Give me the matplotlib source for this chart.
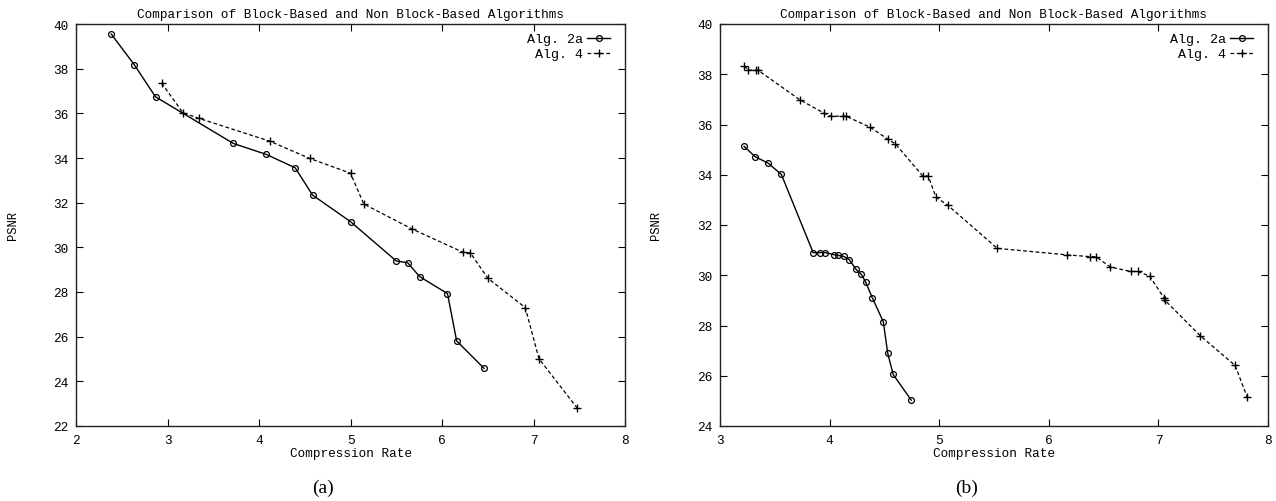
import matplotlib
matplotlib.use("Agg")
import matplotlib.pyplot as plt

# ---- data: panel (a) ----
a_alg2a_x = [2.385, 2.636, 2.869, 3.72, 4.08, 4.396, 4.585, 5.00, 5.50, 5.625, 5.755, 6.06, 6.16, 6.46]
a_alg2a_y = [39.55, 38.18, 36.74, 34.65, 34.16, 33.56, 32.34, 31.15, 29.39, 29.31, 28.69, 27.93, 25.81, 24.58]
a_alg4_x = [2.936, 3.17, 3.34, 4.12, 4.554, 5.00, 5.145, 5.674, 6.23, 6.31, 6.50, 6.91, 7.06, 7.48]
a_alg4_y = [37.35, 36.02, 35.78, 34.75, 33.98, 33.32, 31.94, 30.82, 29.78, 29.75, 28.62, 27.30, 25.01, 22.79]

# ---- data: panel (b) ----
b_alg2a_x = [3.22, 3.32, 3.44, 3.56, 3.85, 3.91, 3.96, 4.04, 4.08, 4.13, 4.18, 4.24, 4.29, 4.33,
             4.39, 4.49, 4.53, 4.58, 4.745]
b_alg2a_y = [35.13, 34.72, 34.46, 34.01, 30.90, 30.90, 30.90, 30.82, 30.79, 30.75, 30.62, 30.24,
             30.03, 29.72, 29.10, 28.15, 26.90, 26.05, 25.03]
b_alg4_x = [3.22, 3.26, 3.33, 3.35, 3.73, 3.95, 4.01, 4.12, 4.15, 4.37, 4.53, 4.60, 4.85, 4.90,
            4.97, 5.08, 5.53, 6.17, 6.38, 6.43, 6.56, 6.75, 6.81, 6.92, 7.05, 7.06, 7.38, 7.70, 7.81]
b_alg4_y = [38.33, 38.16, 38.16, 38.15, 36.98, 36.45, 36.33, 36.33, 36.33, 35.89, 35.42, 35.23,
            33.95, 33.95, 33.11, 32.78, 31.07, 30.81, 30.74, 30.74, 30.33, 30.15, 30.15, 29.97,
            29.10, 29.00, 27.60, 26.41, 25.15]

title = "Comparison of Block-Based and Non Block-Based Algorithms"
xlabel = "Compression Rate"
ylabel = "PSNR"
labels = ["Alg. 2a", "Alg. 4"]
panel_tags = ["(a)", "(b)"]
a_xlim, a_ylim = (2, 8), (22, 40)
b_xlim, b_ylim = (3, 8), (24, 40)

mono = ["Liberation Mono", "DejaVu Sans Mono"]
serif = ["Liberation Serif", "DejaVu Serif"]

W, H = 1276, 502
fig = plt.figure(figsize=(W / 100, H / 100), dpi=100)
top_px, bot_px = 25, 427
axA = fig.add_axes([76 / W, 1 - bot_px / H, (625 - 76) / W, (bot_px - top_px) / H])
axB = fig.add_axes([720 / W, 1 - bot_px / H, (1268 - 720) / W, (bot_px - top_px) / H])

FS = 9.2

def style(ax, xlim, ylim, xa, ya, xb, yb, tag, tag_x, ylab_x):
    ax.plot(xa, ya, color="black", lw=1.0, ls="-", marker="o", ms=4.2,
            mfc="none", mec="black", mew=0.9, label=labels[0])
    ax.plot(xb, yb, color="black", lw=0.9, ls=(0, (3, 2)), marker="+", ms=5.5,
            mew=1.0, label=labels[1])
    ax.set_xlim(*xlim)
    ax.set_ylim(*ylim)
    ax.set_xticks(range(xlim[0], xlim[1] + 1))
    ax.set_yticks(range(ylim[0], ylim[1] + 1, 2))
    ax.tick_params(direction="in", length=5, width=0.8, top=True, right=True,
                   labelsize=FS, pad=5.5)
    for lab in ax.get_xticklabels() + ax.get_yticklabels():
        lab.set_family(mono)
    for s in ax.spines.values():
        s.set_linewidth(1.0)
        s.set_color("#222222")
    ax.set_title(title, family=mono, fontsize=FS, pad=5)
    ax.set_xlabel(xlabel, family=mono, fontsize=FS, labelpad=1)
    fig.text(ylab_x, 1 - 225 / H, ylabel, family=mono, fontsize=FS - 0.5, rotation=90,
             ha="center", va="center")
    leg = ax.legend(loc="upper right", bbox_to_anchor=(1 - 15 / 549, 1 - 9 / 402),
                    frameon=False, markerfirst=False,
                    prop={"family": mono, "size": 9.6}, handlelength=1.7,
                    handletextpad=0.3, labelspacing=0.2, borderaxespad=0, borderpad=0)
    for t in leg.get_texts():
        t.set_ha("right")
    fig.text(tag_x / W, 1 - 488 / H, tag, family=serif, fontsize=14,
             ha="center", va="center")

style(axA, a_xlim, a_ylim, a_alg2a_x, a_alg2a_y, a_alg4_x, a_alg4_y, panel_tags[0], 323, 13 / W)
style(axB, b_xlim, b_ylim, b_alg2a_x, b_alg2a_y, b_alg4_x, b_alg4_y, panel_tags[1], 967, 656 / W)

fig.savefig("out.png", dpi=100, facecolor="white")
